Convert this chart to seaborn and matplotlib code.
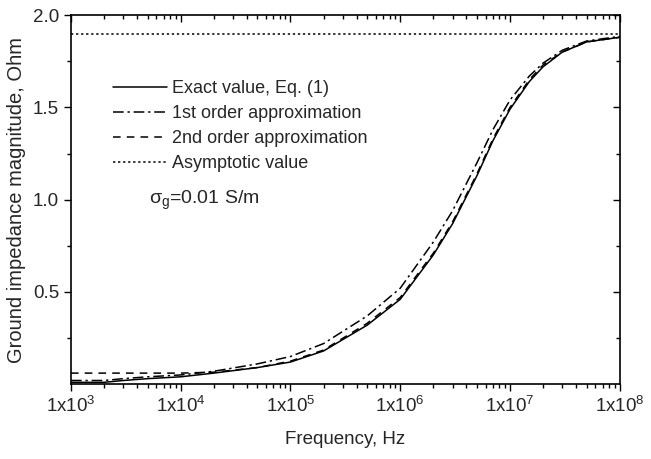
import numpy as np
import pandas as pd
import matplotlib
matplotlib.use("Agg")
import matplotlib.pyplot as plt
import matplotlib.ticker as mticker
import seaborn as sns

freq = [1e3, 2e3, 3e3, 5e3, 1e4, 2e4, 5e4, 1e5, 2e5, 5e5, 1e6, 2e6, 3e6, 5e6, 7e6, 1e7, 1.5e7, 2e7, 3e7, 5e7, 1e8]
exact = [0.01, 0.01, 0.02, 0.03, 0.04, 0.06, 0.09, 0.12, 0.18, 0.32, 0.46, 0.70, 0.87, 1.13, 1.32, 1.49, 1.64, 1.72, 1.80, 1.855, 1.88]
first = [0.02, 0.02, 0.03, 0.04, 0.05, 0.07, 0.11, 0.15, 0.22, 0.37, 0.52, 0.77, 0.94, 1.20, 1.38, 1.54, 1.67, 1.74, 1.81, 1.86, 1.885]
second = [0.06, 0.06, 0.06, 0.06, 0.06, 0.065, 0.09, 0.125, 0.185, 0.33, 0.47, 0.71, 0.88, 1.14, 1.33, 1.50, 1.65, 1.73, 1.80, 1.855, 1.88]
asymptote = 1.9

labels = ["Exact value, Eq. (1)", "1st order approximation", "2nd order approximation", "Asymptotic value"]
styles = ["-", (0, (7, 2.5, 1.5, 2.5)), (0, (5, 4)), (0, (1.5, 1.8))]

sns.set_style("ticks")
plt.rcParams['font.family'] = ['Liberation Sans', 'DejaVu Sans']
plt.rcParams['mathtext.fontset'] = 'custom'
plt.rcParams['mathtext.rm'] = 'Liberation Sans'
plt.rcParams['mathtext.it'] = 'Liberation Sans:italic'

fig = plt.figure(figsize=(6.51, 4.59), dpi=100)
ax = fig.add_axes([0.109, 0.163, 0.843, 0.804])

series = [exact, first, second, [asymptote] * len(freq)]
for vals, lab, ls in zip(series, labels, styles):
    df = pd.DataFrame({"f": freq, "v": vals})
    sns.lineplot(data=df, x="f", y="v", ax=ax, color="black", linewidth=1.1,
                 linestyle=ls, label=lab)

ax.set_xscale("log")
ax.set_xlim(1e3, 1e8)
ax.set_ylim(0, 2.0)
ax.set_yticks([0.5, 1.0, 1.5, 2.0])
ax.yaxis.set_minor_locator(mticker.FixedLocator([0.25, 0.75, 1.25, 1.75]))
ax.xaxis.set_major_locator(mticker.LogLocator(base=10, numticks=10))
ax.xaxis.set_minor_locator(mticker.LogLocator(base=10, subs=np.arange(2, 10), numticks=20))
ax.xaxis.set_minor_formatter(mticker.NullFormatter())
ax.xaxis.set_major_formatter(mticker.FuncFormatter(lambda v, p: r"1x10$^{%d}$" % int(round(np.log10(v)))))
ax.yaxis.set_major_formatter(mticker.FormatStrFormatter("%.1f"))

ax.tick_params(axis="both", which="major", labelsize=13.5, width=1, length=5, color="black")
ax.tick_params(axis="both", which="minor", width=1, length=3, color="black")
ax.tick_params(axis="x", which="both", top=True, direction="out")
ax.tick_params(axis="y", which="both", right=True, direction="out")
for t in ax.xaxis.get_major_ticks() + ax.xaxis.get_minor_ticks():
    t.tick2line.set_marker(3)
for t in ax.yaxis.get_major_ticks() + ax.yaxis.get_minor_ticks():
    t.tick2line.set_marker(0)

for s in ax.spines.values():
    s.set_linewidth(1.2)
    s.set_color("black")

ax.set_xlabel("Frequency, Hz", fontsize=13.5, labelpad=11)
ax.set_ylabel("Ground impedance magnitude, Ohm", fontsize=14.5, labelpad=5)

leg = ax.legend(loc="upper left", bbox_to_anchor=(0.064, 0.843), frameon=False, fontsize=13,
                handlelength=3.0, handletextpad=0.25, labelspacing=0.44, borderaxespad=0)
ax.text(0.143, 0.497, "σ$_\\mathregular{g}$=0.01 S/m", transform=ax.transAxes, fontsize=14,
        ha="left", va="center")

fig.savefig("out.png", dpi=100)
